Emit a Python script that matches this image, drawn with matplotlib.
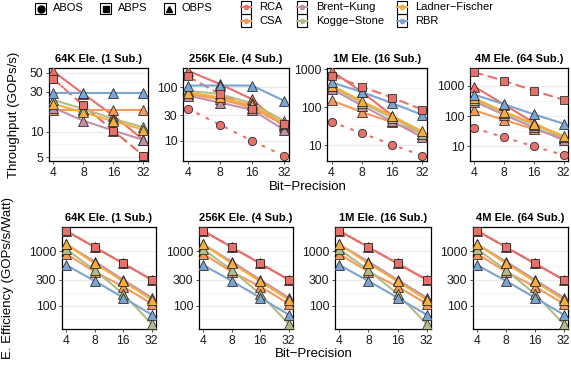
import numpy as np
import matplotlib
matplotlib.use("Agg")
import matplotlib.pyplot as plt
from matplotlib.patches import Rectangle
from matplotlib.ticker import FixedLocator, NullFormatter

plt.rcParams['font.family'] = ['Liberation Sans', 'DejaVu Sans']

W, H = 571, 366

bits = [4, 8, 16, 32]
archs = ['RCA', 'CSA', 'Brent\u2212Kung', 'Kogge\u2212Stone', 'Ladner\u2212Fischer', 'RBR']
arch_colors = ['#E8706A', '#F39A5C', '#C291A8', '#B4BC86', '#F8AE3E', '#7DA3D0']
mappings = ['ABOS', 'ABPS', 'OBPS']
map_markers = ['o', 's', '^']
map_sizes = [6.0, 5.6, 6.6]
titles = ['64K Ele. (1 Sub.)', '256K Ele. (4 Sub.)', '1M Ele. (16 Sub.)', '4M Ele. (64 Sub.)']

# throughput (GOPs/s), one row per panel
tp_rca_abos = [[42, 20.5, 10.2, 5.2], [40, 20, 10, 5.2], [41, 20.5, 10.2, 5.2], [40, 20, 10, 5.2]]
tp_rca_abps = [[42, 20.5, 10.2, 5.2], [160, 75, 40, 20.5], [670, 348, 176, 86], [2770, 1460, 684, 345]]
tp_rca_obps = [[52, 28, 15.5, 8], [205, 115, 60, 18], [900, 250, 60, 19], [930, 240, 60, 19]]
tp_csa = [[18.3, 18.3, 18.3, 18.3], [75, 60, 42, 20], [150, 74, 40, 20], [154, 74, 37, 19]]
tp_bk = [[19.2, 13.5, 10.3, 8], [70, 52, 38, 16], [300, 110, 42, 16], [300, 110, 42, 16]]
tp_ks = [[23.8, 18.6, 14.2, 11.3], [86, 75, 50, 23.5], [350, 130, 52, 20], [350, 130, 52, 20]]
tp_lf = [[21.4, 17, 13.3, 10.6], [80, 65, 46, 21], [370, 144, 58, 23], [380, 140, 56, 22]]
tp_rbr = [[28.5, 28.5, 28.5, 28.5], [108, 108, 108, 56], [450, 250, 127, 62], [505, 245, 114, 56]]

# energy efficiency (GOPs/s/Watt), same in every panel; RCA equal for all mappings
ee_rca = [2400, 1200, 600, 300]
ee_csa = [900, 420, 225, 108]
ee_bk = [1350, 650, 300, 140]
ee_ks = [1100, 450, 165, 46]
ee_lf = [1350, 600, 280, 128]
ee_rbr = [560, 285, 140, 68]

tp_breaks = [[5, 10, 30, 50], [10, 30, 100], [10, 100, 1000], [10, 100, 1000]]
tp_lims = [(4.5, 57), (4.2, 230), (3.8, 1070), (3.3, 3840)]
ee_breaks = [100, 300, 1000]
ee_lim = (37, 2830)

top_boxes = [(49, 148), (183, 289), (327, 427), (470, 568)]
bot_boxes = [(62, 156), (199, 293), (335, 431), (473, 568)]

fig = plt.figure(figsize=(W / 100, H / 100), dpi=100)


def px_axes(l, r, t, b):
    return fig.add_axes([l / W, 1 - b / H, (r - l) / W, (b - t) / H])


def style_panel(ax, title, breaks, lim):
    ax.set_xscale('log', base=2)
    ax.set_yscale('log')
    lo, hi = np.log2(bits[0]), np.log2(bits[-1])
    pad = 0.05 * (hi - lo)
    ax.set_xlim(2 ** (lo - pad), 2 ** (hi + pad))
    ax.set_ylim(*lim)
    ax.xaxis.set_major_locator(FixedLocator(bits))
    ax.set_xticklabels([str(b) for b in bits])
    ax.xaxis.set_minor_locator(FixedLocator([]))
    ax.yaxis.set_major_locator(FixedLocator(breaks))
    ax.set_yticklabels([str(b) for b in breaks])
    lb = np.log10(breaks)
    steps = np.diff(lb)
    mids = list((lb[:-1] + lb[1:]) / 2)
    mids = [lb[0] - steps[0] / 2] + mids + [lb[-1] + steps[-1] / 2]
    ax.yaxis.set_minor_locator(FixedLocator(10 ** np.array(mids)))
    ax.yaxis.set_minor_formatter(NullFormatter())
    ax.grid(axis='y', which='major', color='#EBEBEB', lw=0.9)
    ax.grid(axis='y', which='minor', color='#F2F2F2', lw=0.5)
    ax.set_axisbelow(True)
    ax.tick_params(which='major', length=2.3, width=0.6, color='#333333',
                   labelsize=8.8, labelcolor='#1a1a1a', pad=1.8)
    ax.tick_params(which='minor', length=0)
    for s in ax.spines.values():
        s.set_linewidth(0.9)
        s.set_color('black')
    ax.set_title(title, fontsize=8, fontweight='bold', pad=4)


def draw_series(ax, series):
    styles = {'ABOS': (0, (1, 4)), 'ABPS': (0, (4, 3)), 'OBPS': '-'}
    for ai, m, vals in series:
        ax.plot(bits, vals, color=arch_colors[ai], lw=1.5, ls=styles[m],
                dash_capstyle='round', zorder=2)
    # squares end up on top where mappings coincide
    for m in ['OBPS', 'ABOS', 'ABPS']:
        mi = mappings.index(m)
        for ai, mm, vals in series:
            if mm != m:
                continue
            ax.plot(bits, vals, ls='none', marker=map_markers[mi], ms=map_sizes[mi],
                    mfc=arch_colors[ai], mec='#222222', mew=0.55, zorder=3)


for i in range(4):
    ax = px_axes(top_boxes[i][0], top_boxes[i][1], 68, 161)
    style_panel(ax, titles[i], tp_breaks[i], tp_lims[i])
    series = [
        (0, 'ABOS', tp_rca_abos[i]),
        (0, 'ABPS', tp_rca_abps[i]),
        (0, 'OBPS', tp_rca_obps[i]),
        (1, 'OBPS', tp_csa[i]),
        (2, 'OBPS', tp_bk[i]),
        (3, 'OBPS', tp_ks[i]),
        (4, 'OBPS', tp_lf[i]),
        (5, 'OBPS', tp_rbr[i]),
    ]
    draw_series(ax, series)

    ax = px_axes(bot_boxes[i][0], bot_boxes[i][1], 227, 329)
    style_panel(ax, titles[i], ee_breaks, ee_lim)
    series = [
        (0, 'ABOS', ee_rca),
        (0, 'ABPS', ee_rca),
        (0, 'OBPS', ee_rca),
        (1, 'OBPS', ee_csa),
        (2, 'OBPS', ee_bk),
        (3, 'OBPS', ee_ks),
        (4, 'OBPS', ee_lf),
        (5, 'OBPS', ee_rbr),
    ]
    draw_series(ax, series)

# axis titles
fig.text(14.5 / W, 1 - 114.5 / H, 'Throughput (GOPs/s)', rotation=90,
         ha='center', va='center', fontsize=9.5)
fig.text(8.5 / W, 1 - 278 / H, 'E. Efficiency (GOPs/s/Watt)', rotation=90,
         ha='center', va='center', fontsize=9.5)
fig.text(308 / W, 1 - 187 / H, 'Bit\u2212Precision', ha='center', va='center', fontsize=9.5)
fig.text(314 / W, 1 - 354 / H, 'Bit\u2212Precision', ha='center', va='center', fontsize=9.5)

# legends drawn in pixel space
leg = fig.add_axes([0, 0, 1, 1])
leg.set_facecolor('none')
leg.axis('off')
leg.set_autoscale_on(False)
leg.set_xlim(0, W)
leg.set_ylim(H, 0)

for name, mk, cx, tx in zip(mappings, map_markers, [40.5, 105.5, 169], [53, 117.5, 181]):
    leg.add_patch(Rectangle((cx - 5.5, 3), 11, 11, fill=False, lw=0.8, ec='black'))
    leg.plot([cx], [8.5], marker=mk, ls='none', color='black', ms=5)
    leg.text(tx, 8.3, name, va='center', ha='left', fontsize=8)

col_x = [245.7, 301.7, 401.7]
col_tx = [259.3, 316, 415]
row_y = [7.3, 20.7]
for k, name in enumerate(archs):
    c, r = k // 2, k % 2
    cx, cy = col_x[c], row_y[r]
    leg.add_patch(Rectangle((cx - 5, cy - 6.7), 10, 13.4, fill=False, lw=0.8, ec='black'))
    leg.plot([cx - 5, cx + 5], [cy, cy], color=arch_colors[k], lw=1.4)
    leg.plot([cx], [cy], marker='o', ls='none', color=arch_colors[k], ms=3)
    leg.text(col_tx[c], cy, name, va='center', ha='left', fontsize=8)

fig.savefig('out.png', dpi=100)
